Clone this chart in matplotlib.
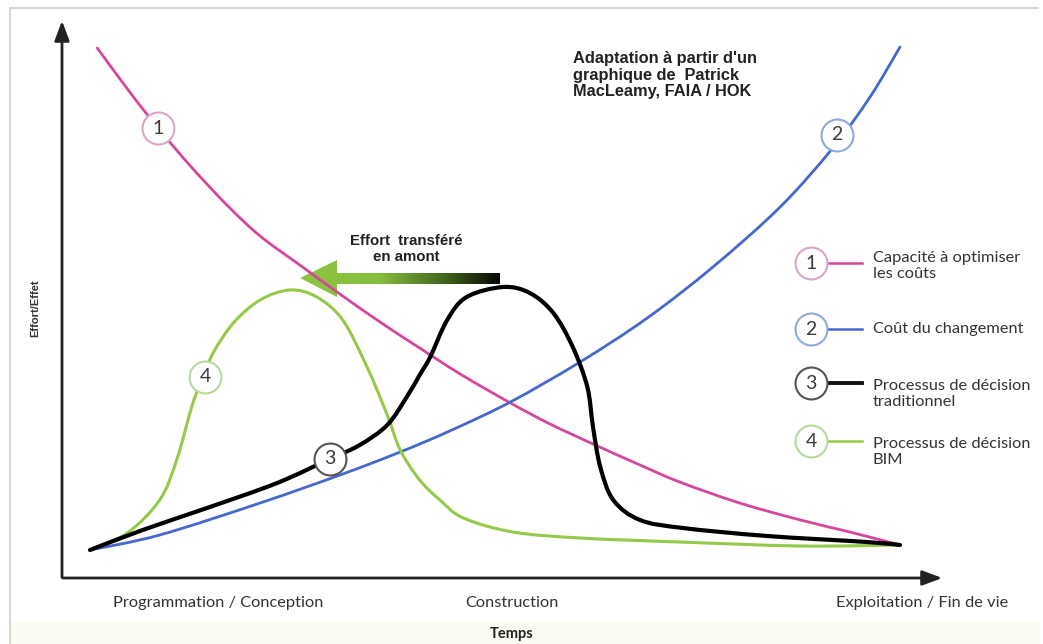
import numpy as np
import matplotlib
matplotlib.use("Agg")
import matplotlib.pyplot as plt
from matplotlib.patches import Polygon, Rectangle, PathPatch
from matplotlib.path import Path
from matplotlib.colors import LinearSegmentedColormap

# time (0 = start of programmation, 10 = end of life) / effort (0..10)
t_cout_opt = [0.09, 0.49, 0.84, 1.24, 1.69, 2.10, 2.59, 3.05, 3.58, 4.07, 4.57,
              5.19, 5.68, 6.21, 6.79, 7.28, 8.02, 8.77, 9.38, 10.0]
e_cout_opt = [10.04, 9.16, 8.44, 7.68, 6.9, 6.28, 5.7, 5.16, 4.56, 4.04, 3.52,
              2.94, 2.52, 2.12, 1.7, 1.36, 0.94, 0.6, 0.36, 0.1]

t_changement = [0.0, 0.86, 2.10, 3.12, 3.83, 4.44, 5.19, 6.05, 6.88, 7.69,
                8.52, 9.17, 9.63, 10.0]
e_changement = [0.0, 0.3, 0.94, 1.52, 1.96, 2.38, 2.96, 3.76, 4.64, 5.66,
                6.86, 8.04, 9.06, 10.06]

t_trad = [0.0, 0.65, 1.48, 2.31, 2.96, 3.33, 3.67, 3.91, 4.07, 4.20, 4.41,
          4.65, 5.10, 5.43, 5.72, 5.96, 6.14, 6.21, 6.30, 6.46, 6.79, 7.32,
          8.36, 9.59, 10.0]
e_trad = [0.0, 0.4, 0.86, 1.34, 1.82, 2.1, 2.5, 3.06, 3.5, 3.86, 4.6,
          5.06, 5.26, 5.14, 4.74, 4.06, 3.26, 2.46, 1.66, 1.0, 0.6, 0.44,
          0.28, 0.16, 0.1]

t_bim = [0.0, 0.46, 0.86, 1.07, 1.27, 1.40, 1.52, 1.77, 2.10, 2.47, 2.80,
         3.12, 3.42, 3.67, 3.83, 4.07, 4.32, 4.61, 5.22, 6.05, 7.28, 8.77, 10.0]
e_bim = [0.0, 0.34, 1.0, 1.8, 2.94, 3.46, 3.94, 4.54, 5.0, 5.2, 5.06,
         4.6, 3.66, 2.7, 2.0, 1.4, 1.0, 0.64, 0.36, 0.24, 0.16, 0.08, 0.1]

# where the numbered circles sit on each curve
label_t = [0.84, 9.22, 2.96, 1.42]
label_e = [8.44, 8.3, 1.82, 3.46]

numbers = ["1", "2", "3", "4"]
legend_texts = ["Capacité à optimiser\nles coûts", "Coût du changement",
                "Processus de décision\ntraditionnel", "Processus de décision\nBIM"]
colors = ["#d4479d", "#4468cc", "#111111", "#96c84a"]
ring_colors = ["#d9a7c6", "#8fa9e0", "#555555", "#b9d99a"]
phases = ["Programmation / Conception", "Construction", "Exploitation / Fin de vie"]


def smooth_path(xs, ys):
    # catmull-rom through the points, drawn as bezier segments
    p = np.column_stack([xs, ys]).astype(float)
    verts = [p[0]]
    codes = [Path.MOVETO]
    n = len(p)
    for i in range(n - 1):
        p0 = p[max(i - 1, 0)]
        p1 = p[i]
        p2 = p[i + 1]
        p3 = p[min(i + 2, n - 1)]
        verts += [p1 + (p2 - p0) / 6, p2 - (p3 - p1) / 6, p2]
        codes += [Path.CURVE4] * 3
    return Path(verts, codes)


W, H = 1043, 644
fig = plt.figure(figsize=(W / 100, H / 100), dpi=100)

# overlay in pixel units for the decorations
deco = fig.add_axes([0, 0, 1, 1])
deco.set_xlim(0, W)
deco.set_ylim(H, 0)
deco.axis("off")

# data axes: t=0 at px 90, 81 px per unit ; e=0 at px 550, 50 px per unit
ax = fig.add_axes([0, 0, 1, 1], facecolor="none")
ax.set_xlim(-90 / 81, (W - 90) / 81)
ax.set_ylim((550 - H) / 50, 550 / 50)
ax.axis("off")

# frame
deco.plot([10, 10], [H, 8], color="#c9cfd8", lw=1.2)
deco.plot([10, 1038], [8, 8], color="#c9cfd8", lw=1.2)
deco.add_patch(Rectangle((10, 622), 1030, 22, color="#fbfbf2", lw=0))

# axes arrows
deco.annotate("", xy=(62, 18), xytext=(62, 580),
              arrowprops=dict(arrowstyle="-|>,head_length=1.2,head_width=0.45",
                              color="#222222", lw=2))
deco.annotate("", xy=(945, 578), xytext=(60, 578),
              arrowprops=dict(arrowstyle="-|>,head_length=1.2,head_width=0.45",
                              color="#222222", lw=2))

# curves
curves = [(t_cout_opt, e_cout_opt, colors[0], 2, 3),
          (t_changement, e_changement, colors[1], 2, 3),
          (t_bim, e_bim, colors[3], 2.2, 3),
          (t_trad, e_trad, "black", 3, 4)]
for xs, ys, c, lw, z in curves:
    ax.add_patch(PathPatch(smooth_path(xs, ys), facecolor="none", edgecolor=c,
                           lw=lw, zorder=z, capstyle="round"))

for i in range(4):
    ax.plot(label_t[i], label_e[i], "o", ms=23, mfc="white", mec=ring_colors[i],
            mew=1.5, zorder=6)
    ax.text(label_t[i], label_e[i], numbers[i], ha="center", va="center",
            fontsize=14, color="#3a3a3a", family="Lato", zorder=7)

# gradient arrow "Effort transféré en amont"
arrow = Polygon([(300, 278), (337, 260), (337, 273), (500, 273), (500, 284),
                 (337, 284), (337, 297)], closed=True, facecolor="none",
                edgecolor="none")
deco.add_patch(arrow)
cmap = LinearSegmentedColormap.from_list(
    "grad", [(0, "#8dc63f"), (0.4, "#84bd3b"), (0.75, "#3d5c1c"), (1, "#050505")])
grad = np.linspace(0, 1, 256).reshape(1, -1)
im = deco.imshow(grad, cmap=cmap, extent=(300, 500, 298, 259), aspect="auto",
                 zorder=5)
im.set_clip_path(arrow)
deco.set_xlim(0, W)
deco.set_ylim(H, 0)
deco.text(406, 249, "Effort  transféré\nen amont", ha="center", va="center",
          fontsize=10.8, fontweight="bold", family="Liberation Sans",
          color="#222222", linespacing=1.2)

# source note
deco.text(573, 75, "Adaptation à partir d'un\ngraphique de  Patrick\nMacLeamy, FAIA / HOK",
          ha="left", va="center", fontsize=11.8, fontweight="bold",
          family="Liberation Sans", color="#222222", linespacing=1.15)

# legend
leg_y = [263, 329, 383, 441]
leg_dy = [3, 0, 11, 11]
for i in range(4):
    deco.plot([826, 862], [leg_y[i], leg_y[i]], color=colors[i],
              lw=2.8 if i == 2 else 1.8, zorder=3)
    deco.plot(811, leg_y[i], "o", ms=23, mfc="white", mec=ring_colors[i],
              mew=1.5, zorder=4)
    deco.text(811, leg_y[i], numbers[i], ha="center", va="center",
              fontsize=14, color="#3a3a3a", family="Lato", zorder=5)
    deco.text(873, leg_y[i] + leg_dy[i], legend_texts[i], ha="left",
              va="center", fontsize=11.8, family="Lato", color="#333333",
              linespacing=1.2)

# axis labels
phase_x = [218, 512, 922]
for x, s in zip(phase_x, phases):
    deco.text(x, 603, s, ha="center", va="center", fontsize=11.8,
              family="Lato", color="#333333")
deco.text(512, 634, "Temps", ha="center", va="center", fontsize=10.5,
          fontweight="bold", family="Lato", color="#222222")
deco.text(35, 308, "Effort/Effet", ha="center", va="center", rotation=90,
          fontsize=8, fontweight="bold", family="Liberation Sans",
          color="#333333")

fig.savefig("out.png", dpi=100)
